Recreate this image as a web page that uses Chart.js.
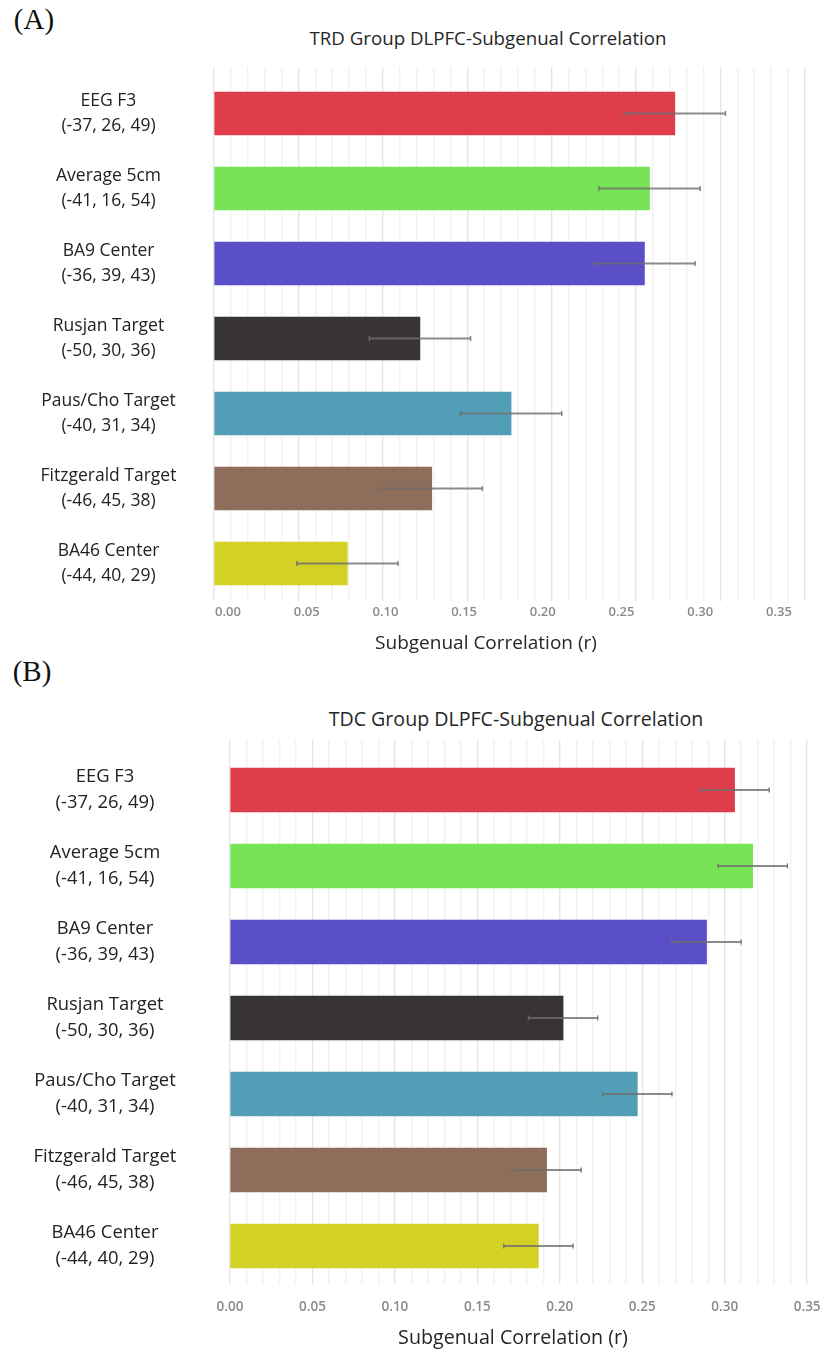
<!DOCTYPE html>
<html>
<head>
<meta charset="utf-8">
<script src="https://cdn.jsdelivr.net/npm/chart.js@4.4.1/dist/chart.umd.min.js"></script>
<style>
  html, body { margin: 0; padding: 0; background: #fff; width: 820px; height: 1353px; overflow: hidden; }
  #page { position: relative; width: 820px; height: 1353px; }
  .wrap { position: absolute; left: 0; width: 820px; }
  .txt { position: absolute; white-space: nowrap; font-family: 'Open Sans', sans-serif; color: #262626;
         transform: translate(-50%, -50%); line-height: 1; }
  .panel { font-family: 'Liberation Serif', 'Times New Roman', serif; color: #111; }
</style>
</head>
<body>
<div id="page">
  <div class="txt panel" style="left:34px; top:19px; font-size:29px;">(A)</div>
  <div class="txt" style="left:488px; top:38px; font-size:18.7px;">TRD Group DLPFC-Subgenual Correlation</div>
  <div class="wrap" style="top:0; height:630px;"><canvas id="chartA"></canvas></div>
  <div class="txt" style="left:486px; top:642px; font-size:19px;">Subgenual Correlation (r)</div>

  <div class="txt panel" style="left:32px; top:671px; font-size:29px;">(B)</div>
  <div class="txt" style="left:516px; top:719px; font-size:19.6px;">TDC Group DLPFC-Subgenual Correlation</div>
  <div class="wrap" style="top:700px; height:624px;"><canvas id="chartB"></canvas></div>
  <div class="txt" style="left:513px; top:1337px; font-size:19.7px;">Subgenual Correlation (r)</div>
</div>

<script>
// Stimulation targets (rows, top to bottom) and their MNI coordinates
const categories = ['EEG F3', 'Average 5cm', 'BA9 Center', 'Rusjan Target',
                    'Paus/Cho Target', 'Fitzgerald Target', 'BA46 Center'];
const coordinates = ['(-37, 26, 49)', '(-41, 16, 54)', '(-36, 39, 43)', '(-50, 30, 36)',
                     '(-40, 31, 34)', '(-46, 45, 38)', '(-44, 40, 29)'];
const barColors = ['#E03D4B', '#77E455', '#5A4FC6', '#383435', '#519EB6', '#8E6E5B', '#D4D126'];

// Mean DLPFC-subgenual correlation (r) and error per target
const trdValues = [0.273, 0.258, 0.255, 0.122, 0.176, 0.129, 0.079];
const trdErrors = [0.030, 0.030, 0.030, 0.030, 0.030, 0.030, 0.030];
const tdcValues = [0.306, 0.317, 0.289, 0.202, 0.247, 0.192, 0.187];
const tdcErrors = [0.021, 0.021, 0.021, 0.021, 0.021, 0.021, 0.021];

// Labelled positions on the correlation axis
const axisTicks = [0, 0.05, 0.10, 0.15, 0.20, 0.25, 0.30, 0.35];
// Minor gridline positions (every 0.01 up to the last label)
const gridSteps = Array.from({ length: 36 }, (_, k) => k / 100);

const ERR_COLOR = 'rgba(110,110,110,0.8)';
const FONT = "'Open Sans', sans-serif";

const isStep = (v, step) => Math.abs(v / step - Math.round(v / step)) < 1e-6;

function gridColor(ctx) {
  const v = ctx.tick ? ctx.tick.value : 0;
  return isStep(v, 0.05) ? 'rgba(0,0,0,0.10)' : 'rgba(0,0,0,0.055)';
}

// keep the plot area exactly where the layout puts it
function noOverflow(s) {
  s.paddingTop = 0; s.paddingBottom = 0; s.paddingLeft = 0; s.paddingRight = 0;
}

function widestLabel(size) {
  const c = document.createElement('canvas').getContext('2d');
  c.font = `normal ${size}px ${FONT}`;
  let w = 0;
  categories.concat(coordinates).forEach(t => { w = Math.max(w, c.measureText(t).width); });
  return w;
}

function buildChart(id, cfg) {
  const values = cfg.values, errors = cfg.errors;
  const bars = values.map((v, i) => ({ x: v, y: i }));
  const whiskers = values.map((v, i) => ({ x: [v - errors[i], v + errors[i]], y: i }));
  const caps = [];
  values.forEach((v, i) => {
    caps.push({ x: v - errors[i], y: i });
    caps.push({ x: v + errors[i], y: i });
  });

  const widest = widestLabel(cfg.catFont);
  const yPad = cfg.areaLeft - cfg.labelCenter - widest / 2;

  const scales = {
    x: {
      type: 'linear', position: 'bottom', min: 0, max: cfg.xMax, offset: false,
      grid: { display: true, color: gridColor, lineWidth: 1.4, drawTicks: false },
      border: { display: false },
      afterBuildTicks: s => { s.ticks = gridSteps.map(v => ({ value: v })); },
      ticks: cfg.labelsOnMain ? {
        display: true, autoSkip: false, maxRotation: 0,
        padding: cfg.tickPad, color: '#8a8a8a',
        font: { family: FONT, size: cfg.tickFont, weight: '600', lineHeight: 1.2 },
        callback: v => (axisTicks.some(t => Math.abs(t - v) < 1e-6) ? v.toFixed(2) : '')
      } : { display: false },
      afterFit: s => { s.height = cfg.labelsOnMain ? cfg.xAxisHeight : 0; noOverflow(s); }
    },
    y: {
      type: 'linear', reverse: true, min: cfg.yMin, max: 6.5, offset: false,
      grid: { display: false, drawTicks: false },
      border: { display: false },
      afterBuildTicks: s => { s.ticks = categories.map((_, i) => ({ value: i })); },
      ticks: {
        crossAlign: 'center', padding: yPad, color: '#222',
        font: { family: FONT, size: cfg.catFont, lineHeight: cfg.catLine },
        callback: v => [categories[v], coordinates[v]]
      },
      afterFit: s => { s.width = cfg.areaLeft; noOverflow(s); }
    }
  };

  if (!cfg.labelsOnMain) {
    // separate label axis carrying the printed tick values
    scales.xt = {
      type: 'linear', position: 'bottom', min: cfg.labelMin, max: cfg.labelMax, offset: false,
      grid: { display: false, drawTicks: false },
      border: { display: false },
      afterBuildTicks: s => { s.ticks = axisTicks.map(v => ({ value: v })); },
      ticks: {
        display: true, autoSkip: false, maxRotation: 0, padding: cfg.tickPad, color: '#8a8a8a',
        font: { family: FONT, size: cfg.tickFont, weight: '600', lineHeight: 1.2 },
        callback: v => v.toFixed(2)
      },
      afterFit: s => { s.height = cfg.xAxisHeight; noOverflow(s); }
    };
  }

  return new Chart(document.getElementById(id), {
    type: 'bar',
    data: {
      datasets: [
        {
          type: 'bar', data: bars, backgroundColor: barColors, borderWidth: 0,
          barThickness: cfg.barThickness, grouped: false, order: 2,
          xAxisID: 'x', yAxisID: 'y'
        },
        {
          type: 'bar', data: whiskers, backgroundColor: ERR_COLOR, borderWidth: 0,
          barThickness: 1.5, grouped: false, order: 1,
          xAxisID: 'x', yAxisID: 'y'
        },
        {
          type: 'scatter', data: caps, pointStyle: 'line', rotation: 90,
          radius: 2.6, borderWidth: 1.5, borderColor: ERR_COLOR, backgroundColor: ERR_COLOR,
          order: 0, xAxisID: 'x', yAxisID: 'y', clip: false
        }
      ]
    },
    options: {
      indexAxis: 'y',
      responsive: false, maintainAspectRatio: false,
      animation: false, events: [],
      layout: { autoPadding: false, padding: { top: cfg.padTop, left: 0, right: 0, bottom: 0 } },
      plugins: { legend: { display: false }, tooltip: { enabled: false }, title: { display: false } },
      scales: scales
    }
  });
}

function sizeCanvas(id, w, h) {
  const c = document.getElementById(id);
  c.width = w; c.height = h;
  c.style.width = w + 'px'; c.style.height = h + 'px';
}

sizeCanvas('chartA', 820, 630);
sizeCanvas('chartB', 820, 624);

buildChart('chartA', {
  values: trdValues, errors: trdErrors,
  areaLeft: 214, xMax: 606 / 1688, padTop: 67, yMin: 6.5 - 534 / 75,
  labelsOnMain: false, labelMin: -14 / 1574, labelMax: (820 - 228) / 1574,
  xAxisHeight: 29, tickPad: 3, tickFont: 13,
  catFont: 17.5, catLine: 1.43, labelCenter: 108.5, barThickness: 43
});

buildChart('chartB', {
  values: tdcValues, errors: tdcErrors,
  areaLeft: 230, xMax: 590 / 1649, padTop: 40, yMin: 6.5 - 544 / 76,
  labelsOnMain: true, xAxisHeight: 40, tickPad: 15, tickFont: 13.5,
  catFont: 18.4, catLine: 1.41, labelCenter: 105, barThickness: 44
});
</script>
</body>
</html>
